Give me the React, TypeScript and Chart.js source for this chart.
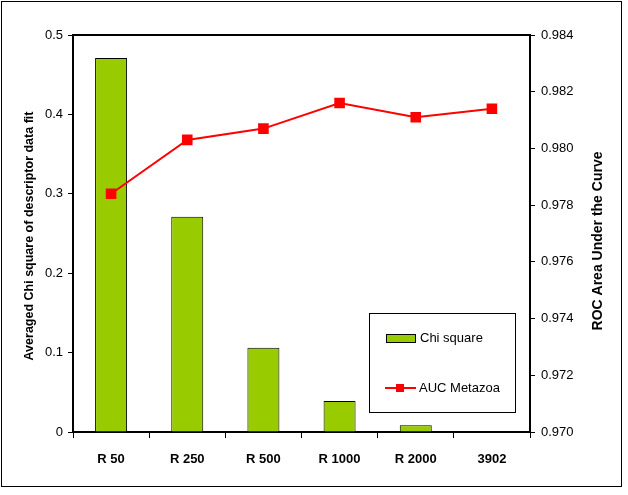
import React, { useRef, useEffect } from "react";
import { Chart, registerables } from "chart.js";

Chart.register(...registerables);

const categories = ["R 50", "R 250", "R 500", "R 1000", "R 2000", "3902"];
const chiSquare = [0.471, 0.271, 0.106, 0.039, 0.0085, 0];
const aucMetazoa = [0.9784, 0.9803, 0.9807, 0.9816, 0.9811, 0.9814];

const FONT = "'Liberation Sans', Arial, sans-serif";
const BAR_GREEN = "#99CC00";
const LINE_RED = "#FF0000";

const decorPlugin = {
  id: "decor",
  afterDraw(chart: any) {
    const { ctx, chartArea } = chart;
    ctx.save();
    // outer frame
    ctx.strokeStyle = "#000";
    ctx.lineWidth = 1;
    ctx.strokeRect(1.5, 1.5, 620, 485);
    // plot top border
    ctx.lineWidth = 2;
    ctx.beginPath();
    ctx.moveTo(chartArea.left - 1, chartArea.top);
    ctx.lineTo(chartArea.right + 1, chartArea.top);
    ctx.stroke();

    // axis titles
    ctx.fillStyle = "#000";
    ctx.textAlign = "center";
    ctx.textBaseline = "middle";
    ctx.save();
    ctx.font = `bold 12.5px ${FONT}`;
    ctx.translate(30, 236);
    ctx.rotate(-Math.PI / 2);
    ctx.fillText("Averaged Chi square of descriptor data fit", 0, 0);
    ctx.restore();
    ctx.save();
    ctx.font = `bold 14px ${FONT}`;
    ctx.translate(598, 241);
    ctx.rotate(-Math.PI / 2);
    ctx.fillText("ROC Area Under the Curve", 0, 0);
    ctx.restore();

    // legend
    ctx.fillStyle = "#fff";
    ctx.fillRect(369.5, 313.5, 146, 99);
    ctx.lineWidth = 1;
    ctx.strokeStyle = "#000";
    ctx.strokeRect(369.5, 313.5, 146, 99);

    ctx.fillStyle = BAR_GREEN;
    ctx.fillRect(386.5, 334.5, 29, 8);
    ctx.strokeRect(386.5, 334.5, 29, 8);

    ctx.strokeStyle = LINE_RED;
    ctx.lineWidth = 2;
    ctx.beginPath();
    ctx.moveTo(385, 388);
    ctx.lineTo(416, 388);
    ctx.stroke();
    ctx.fillStyle = LINE_RED;
    ctx.fillRect(396, 384, 8, 8);

    ctx.fillStyle = "#000";
    ctx.font = `13px ${FONT}`;
    ctx.textAlign = "left";
    ctx.fillText("Chi square", 420, 338);
    ctx.fillText("AUC Metazoa", 419, 388);
    ctx.restore();
  },
};

export default function App() {
  const canvasRef = useRef<HTMLCanvasElement | null>(null);
  const chartInstance = useRef<Chart | null>(null);

  useEffect(() => {
    document.body.style.margin = "0";
    if (chartInstance.current) chartInstance.current.destroy();
    if (!canvasRef.current) return;

    chartInstance.current = new Chart(canvasRef.current, {
      type: "bar",
      data: {
        labels: categories,
        datasets: [
          {
            type: "line",
            label: "AUC Metazoa",
            data: aucMetazoa,
            yAxisID: "y1",
            borderColor: LINE_RED,
            backgroundColor: LINE_RED,
            borderWidth: 2,
            pointStyle: "rect",
            pointRadius: 7.5,
            pointBorderWidth: 0,
            order: 0,
          } as any,
          {
            type: "bar",
            label: "Chi square",
            data: chiSquare,
            yAxisID: "y",
            backgroundColor: BAR_GREEN,
            borderColor: "#000",
            borderWidth: 1,
            barPercentage: 0.42,
            categoryPercentage: 1,
            order: 1,
          },
        ],
      },
      options: {
        responsive: false,
        animation: false,
        devicePixelRatio: 1,
        layout: { padding: { top: 35, left: 0, right: 0, bottom: 0 } },
        plugins: {
          legend: { display: false },
          tooltip: { enabled: false },
        },
        scales: {
          x: {
            offset: true,
            grid: {
              offset: true,
              drawOnChartArea: false,
              tickLength: 6,
              color: "#000",
            },
            border: { color: "#000", width: 2 },
            ticks: {
              color: "#000",
              padding: 14,
              font: { family: FONT, size: 13, weight: "bold" },
            },
            afterFit: (s: any) => {
              s.height = 63;
            },
          },
          y: {
            position: "left",
            min: 0,
            max: 0.5,
            ticks: {
              stepSize: 0.1,
              color: "#000",
              padding: 5,
              font: { family: FONT, size: 13 },
            },
            grid: { drawOnChartArea: false, tickLength: 5, color: "#000" },
            border: { color: "#000", width: 2 },
            afterFit: (s: any) => {
              s.width = 73;
            },
          },
          y1: {
            position: "right",
            min: 0.97,
            max: 0.984,
            ticks: {
              stepSize: 0.002,
              color: "#000",
              padding: 6,
              font: { family: FONT, size: 13 },
              callback: (v: any) => Number(v).toFixed(3),
            },
            grid: { drawOnChartArea: false, tickLength: 5, color: "#000" },
            border: { color: "#000", width: 2 },
            afterFit: (s: any) => {
              s.width = 98;
            },
          },
        },
      },
      plugins: [decorPlugin],
    });

    return () => {
      if (chartInstance.current) {
        chartInstance.current.destroy();
        chartInstance.current = null;
      }
    };
  }, []);

  return (
    <div style={{ width: 628, height: 495, background: "#fff" }}>
      <canvas ref={canvasRef} width={628} height={495}></canvas>
    </div>
  );
}
